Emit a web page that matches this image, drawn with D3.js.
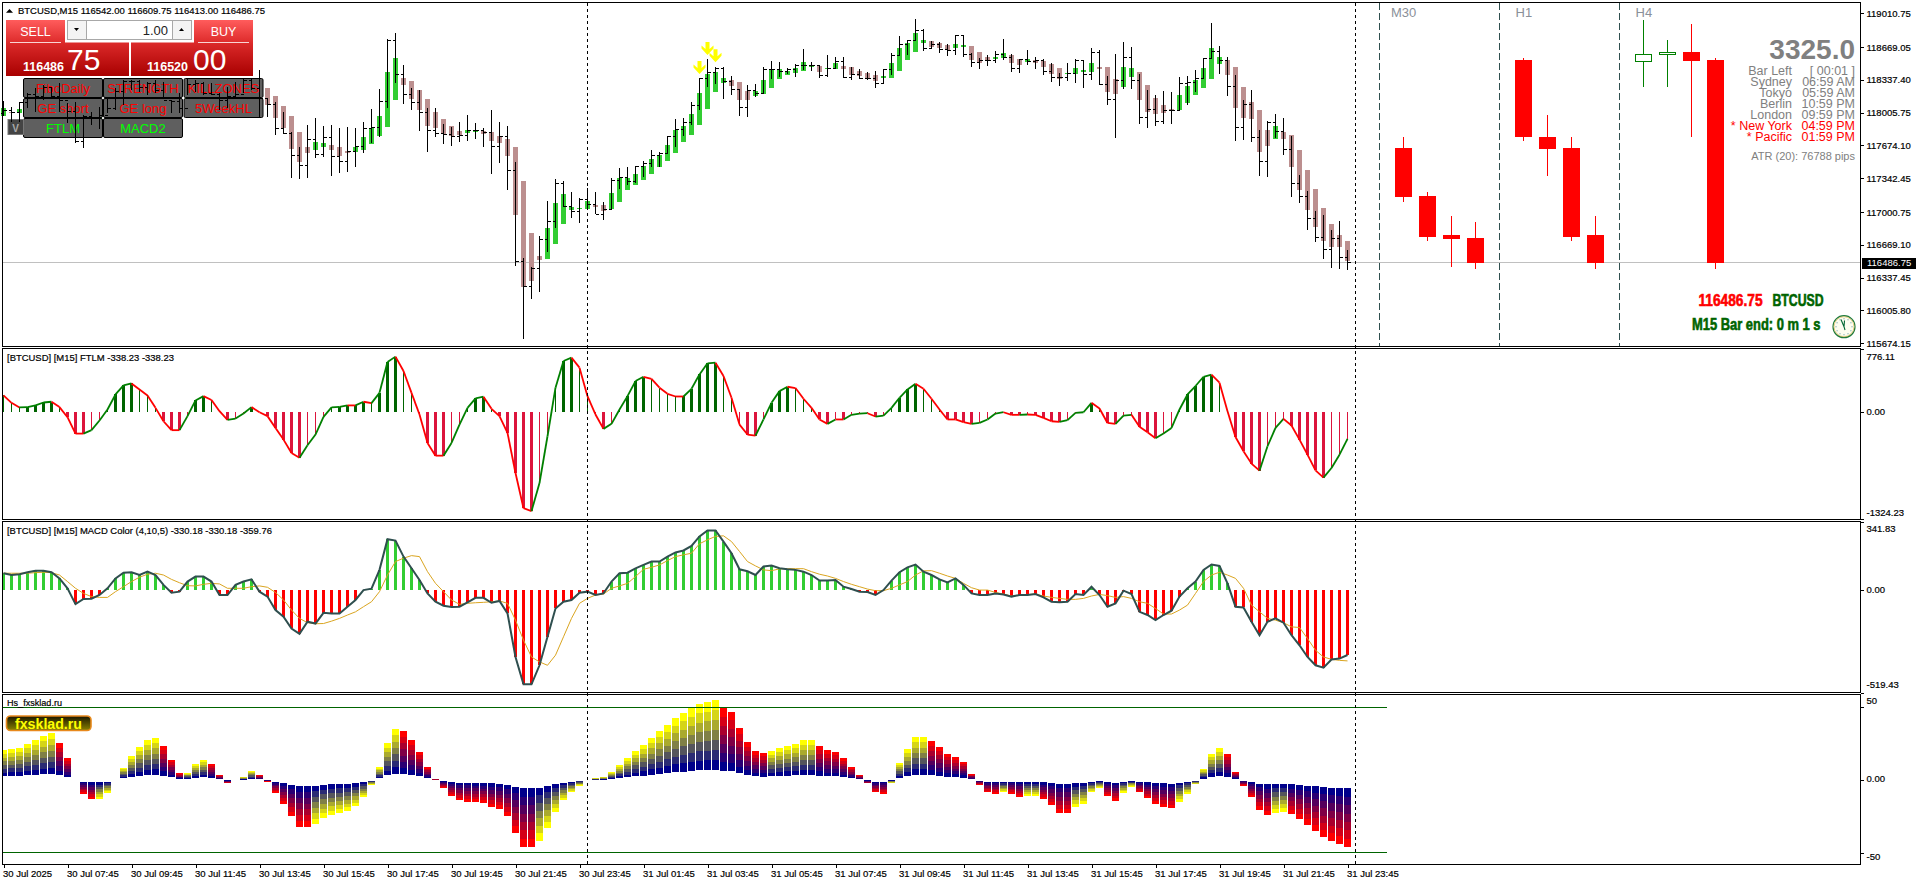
<!DOCTYPE html>
<html>
<head>
<meta charset="utf-8">
<title>BTCUSD,M15</title>
<script src="https://cdn.jsdelivr.net/npm/d3@7"></script>
<style>
  html, body { margin: 0; padding: 0; background: #fff; overflow: hidden; }
  text { font-family: "Liberation Sans", Arial, sans-serif; }
  .crisp { shape-rendering: crispEdges; }
</style>
</head>
<body>
<div id="vis"></div>
<script>
// M15 bars, one value per bar
const highs = [
  118124,118067,118114,118201,118252,118286,118269,118302,118100,118117,
  117982,118016,118060,118151,118252,118336,118336,118336,118319,118336,
  118319,118134,118201,118353,118336,118319,118302,118201,118269,118319,
  118353,118353,118437,118147,118117,118016,117814,117662,117881,117949,
  117875,117881,117847,117858,117847,117915,118043,118242,118747,118808,
  118488,118252,118235,118050,118050,117891,117864,117915,117982,117898,
  117854,118033,117912,117871,117504,116533,116442,116759,117113,117335,
  117315,117204,117140,117244,117204,117103,117345,117447,117457,117467,
  117517,117629,117608,117770,117942,117949,118114,118356,118548,118464,
  118471,118377,118242,118286,118292,118464,118525,118518,118454,118498,
  118646,118518,118478,118589,118569,118569,118468,118444,118420,118427,
  118444,118606,118781,118741,118953,118848,118730,118720,118700,118791,
  118791,118606,118555,118586,118633,118747,118596,118548,118640,118565,
  118545,118505,118404,118505,118545,118532,118660,118640,118377,118599,
  118720,118670,118397,118235,118185,118225,118215,118363,118377,118437,
  118555,118912,118680,118565,118387,118134,118235,117831,117918,117992,
  117952,117770,117376,117214,117012,116971,116820,116911,116618];
const lows = [
  117972,117908,117908,118050,118016,118134,118151,118016,117898,117696,
  117652,117881,117837,118000,118033,118084,118235,118218,118185,118201,
  118151,118000,118000,118185,118218,118185,118185,118033,118050,118151,
  118201,118235,117949,117966,117780,117790,117349,117335,117349,117544,
  117561,117369,117399,117409,117460,117602,117696,117763,118053,118309,
  118094,118033,117824,117612,117763,117689,117669,117706,117723,117740,
  117662,117386,117500,117224,116456,115721,116125,116193,116597,116840,
  117056,116941,116890,117032,116978,116921,117032,117234,117275,117292,
  117359,117460,117460,117595,117662,117770,117881,118033,118269,118296,
  118144,118188,117972,117966,118161,118201,118346,118370,118397,118370,
  118437,118431,118360,118370,118454,118360,118340,118346,118336,118255,
  118296,118387,118589,118589,118730,118633,118646,118606,118579,118589,
  118565,118471,118447,118481,118511,118538,118420,118410,118484,118447,
  118390,118316,118276,118329,118309,118255,118336,118289,118084,117750,
  118245,118245,117891,117854,117871,117888,117891,118026,118084,118212,
  118353,118545,118397,118174,117719,117730,117709,117366,117359,117750,
  117581,117153,117093,116820,116698,116527,116436,116426,116415];
const opens = [
  118000,118033,118009,118110,118185,118168,118262,118168,118134,118016,
  117713,117966,117959,117982,118050,118218,118319,118319,118262,118302,
  118235,118134,118117,118050,118286,118302,118201,118185,118134,118168,
  118185,118336,118252,118151,118084,117847,117797,117578,117470,117730,
  117588,117750,117561,117514,117612,117662,117847,117858,118124,118734,
  118387,118185,118110,118009,117824,117797,117790,117770,117780,117821,
  117824,117804,117659,117770,117426,116500,116247,116432,116719,116907,
  117285,117059,117002,117133,117079,116978,117022,117325,117352,117308,
  117460,117494,117575,117595,117770,117837,117905,118080,118353,118414,
  118457,118323,118242,118060,118235,118201,118447,118444,118427,118444,
  118481,118481,118478,118383,118454,118525,118363,118393,118356,118356,
  118302,118444,118589,118700,118734,118832,118653,118697,118646,118633,
  118788,118599,118515,118535,118535,118596,118565,118454,118545,118528,
  118538,118424,118360,118360,118407,118538,118397,118619,118292,118141,
  118336,118562,118333,117959,118040,117918,118033,118033,118296,118313,
  118353,118552,118626,118532,118272,117858,118090,117757,117514,117908,
  117817,117635,117291,117160,116938,116742,116618,116729,116543];
const closes = [
  118033,118009,118110,118185,118168,118262,118168,118134,118016,117713,
  117966,117959,117982,118050,118218,118319,118319,118262,118302,118235,
  118134,118117,118050,118286,118302,118201,118185,118134,118168,118185,
  118336,118252,118151,118084,117847,117797,117578,117470,117730,117588,
  117750,117561,117514,117612,117662,117847,117858,118124,118734,118387,
  118185,118110,118009,117824,117797,117790,117770,117780,117821,117824,
  117804,117659,117770,117426,116500,116247,116432,116719,116907,117285,
  117059,117002,117133,117079,116978,117022,117325,117352,117308,117460,
  117494,117575,117595,117770,117837,117905,118080,118353,118414,118457,
  118323,118242,118060,118235,118201,118447,118444,118427,118444,118481,
  118481,118478,118383,118454,118525,118363,118393,118356,118356,118302,
  118444,118589,118700,118734,118832,118653,118697,118646,118633,118788,
  118599,118515,118535,118535,118596,118565,118454,118545,118528,118538,
  118424,118360,118360,118407,118538,118397,118619,118292,118141,118336,
  118562,118333,117959,118040,117918,118033,118033,118296,118313,118353,
  118552,118626,118532,118272,117858,118090,117757,117514,117908,117817,
  117635,117291,117160,116938,116742,116618,116729,116543,116486.75];
// the coloured bodies do not sit on the black bars, they are a smoothed candle
const bodyOpens = [
  117976,118016,118003,118050,118067,118117,118235,118218,118134,118100,
  117864,117898,117915,118000,118050,118134,118201,118302,118286,118286,
  118252,118185,118151,118100,118201,118286,118252,118218,118100,118151,
  118185,118302,118269,118252,118174,118073,117972,117810,117659,117629,
  117659,117679,117659,117618,117608,117629,117689,117770,117861,118134,
  118356,118326,118235,118144,118013,117942,117871,117821,117800,117810,
  117821,117810,117770,117740,117659,117315,116789,116557,116527,116678,
  116880,117022,117032,117032,117072,117072,117032,117103,117224,117275,
  117325,117386,117457,117517,117598,117709,117780,117881,118043,118215,
  118306,118336,118316,118225,118174,118195,118255,118346,118387,118407,
  118427,118468,118478,118447,118447,118478,118468,118427,118407,118387,
  118356,118356,118427,118538,118619,118710,118730,118710,118690,118660,
  118670,118680,118619,118569,118548,118559,118589,118548,118518,118538,
  118528,118498,118457,118397,118397,118417,118417,118468,118468,118346,
  118265,118367,118417,118286,118154,118084,118043,118033,118104,118185,
  118255,118346,118498,118538,118468,118265,118114,118033,117831,117740,
  117810,117780,117629,117426,117234,117042,116880,116769,116708];
const bodyCloses = [
  118050,118000,118043,118134,118168,118218,118134,118100,118033,117932,
  118033,118000,118033,118084,118185,118269,118302,118235,118218,118218,
  118168,118100,118067,118235,118302,118201,118185,118134,118201,118235,
  118286,118218,118134,118084,117952,117851,117639,117507,117598,117709,
  117699,117629,117568,117598,117659,117760,117851,117972,118417,118559,
  118286,118144,118033,117871,117851,117790,117770,117780,117831,117831,
  117790,117719,117699,117568,116971,116243,116304,116516,116840,117093,
  117184,117052,117042,117113,117052,117012,117194,117345,117345,117386,
  117467,117537,117578,117679,117831,117871,117992,118205,118397,118417,
  118356,118276,118134,118134,118225,118336,118447,118447,118427,118457,
  118518,118488,118417,118457,118508,118447,118387,118377,118346,118326,
  118377,118508,118660,118710,118811,118741,118670,118660,118640,118700,
  118690,118538,118508,118538,118569,118609,118508,118488,118548,118505,
  118468,118397,118346,118407,118457,118437,118508,118447,118215,118195,
  118468,118457,118134,118013,117992,118003,118023,118185,118276,118336,
  118457,118660,118569,118387,118053,117952,117942,117608,117669,117871,
  117740,117457,117224,117022,116850,116708,116648,116648,116506];

const ftlm = [
  198,107,50,54,75,111,120,54,-70,-272,
  -272,-230,-111,25,210,321,346,272,198,45,
  -120,-230,-230,-57,136,189,141,4,-103,-87,
  -25,54,-9,-57,-202,-346,-511,-569,-416,-284,
  -66,50,57,75,75,120,103,230,610,676,
  499,230,-37,-387,-544,-544,-387,-161,45,161,
  182,33,-57,-264,-758,-1191,-1228,-881,-305,293,
  622,663,540,189,-37,-214,-152,25,189,375,
  428,403,293,218,185,185,280,457,594,601,
  437,169,-161,-284,-296,-98,107,251,305,289,
  157,45,-98,-152,-98,-98,-41,-25,-21,-62,
  -50,45,169,272,342,280,157,25,-98,-98,
  -132,-152,-141,-98,-25,-9,-41,-41,-37,-41,
  -78,-120,-128,-107,-16,-9,107,37,-141,-152,
  -50,-41,-189,-255,-330,-272,-202,25,210,314,
  428,453,355,4,-314,-490,-642,-729,-428,-202,
  -91,-173,-346,-532,-726,-815,-696,-532,-338.23];
const macd = [
  83,74,78,88,95,95,88,57,7,-73,
  -47,-46,-27,7,57,86,88,74,91,74,
  24,-15,-10,41,66,66,41,-27,-27,24,
  41,52,-10,-35,-103,-137,-196,-223,-162,-171,
  -117,-120,-120,-86,-52,-2,5,100,255,248,
  167,108,49,-19,-61,-81,-88,-86,-64,-41,
  -41,-66,-57,-120,-340,-478,-478,-382,-238,-95,
  -61,-52,-15,-10,-27,-19,41,83,86,108,
  125,142,142,167,188,198,221,269,299,299,
  243,184,103,93,74,117,122,108,103,100,
  91,74,46,46,49,15,3,-10,-12,-27,
  -2,46,88,113,127,91,74,52,37,57,
  24,-19,-27,-27,-19,-24,-35,-27,-27,-22,
  -39,-61,-64,-61,-22,-27,15,-27,-86,-69,
  -5,-22,-112,-128,-154,-128,-106,-35,7,41,
  100,127,120,32,-86,-90,-162,-230,-162,-145,
  -167,-230,-281,-340,-382,-394,-353,-348,-330.18];
const signal = [
  83,83,83,83,86,88,86,74,41,7,
  -19,-35,-39,-39,-10,15,41,63,78,83,
  74,52,35,20,19,27,32,29,7,7,
  7,15,19,12,-14,-52,-103,-145,-167,-172,
  -171,-159,-145,-128,-112,-86,-61,-10,74,142,
  159,172,167,91,32,-10,-52,-74,-69,-66,
  -64,-61,-57,-69,-154,-255,-340,-365,-382,-331,
  -238,-145,-69,-44,-27,-22,7,19,32,66,
  103,113,125,147,167,176,184,232,252,269,
  272,243,193,142,120,100,96,105,106,106,
  106,91,78,69,57,41,27,15,3,-5,
  -5,7,24,41,74,95,96,83,69,57,
  32,10,-2,-2,-14,-22,-32,-29,-25,-22,
  -32,-39,-44,-49,-49,-44,-32,-24,-30,-39,
  -35,-44,-61,-69,-95,-123,-123,-103,-78,-19,
  41,74,88,74,57,7,-78,-112,-145,-154,
  -167,-188,-191,-247,-306,-340,-352,-357,-359.76];
const hs = [
  20.6,21.3,22,24.8,27.5,30.3,32.3,25.5,15.1,0,
  -9.6,-13.1,-13,-8.9,0,8.3,16.5,22.7,27.5,28.9,
  23.4,13.8,4.8,5,11,13.8,11,3.4,-2.1,0,
  2.1,6.2,3.4,-1.1,-8.9,-16.5,-24.8,-32.3,-32.4,-30.3,
  -26.2,-24.3,-23,-21.6,-17.9,-11.7,-3.4,8.9,25.5,35.1,
  33.7,27.5,19.3,8.9,0.9,-5.5,-11,-13.8,-15.1,-15.2,
  -15.8,-18.6,-20,-24.8,-36.5,-46.1,-46.2,-42,-33,-22,
  -13.8,-8.3,-4.1,0,1.4,2.1,5.5,10.3,15.1,20,
  24.1,28.9,33.7,37.9,42.7,46.1,49.5,52.3,53.7,55.1,
  49.5,46.8,35.8,26.2,20,18.6,20,22,23.4,24.8,
  27.5,27.6,23.4,20.6,19.3,15.1,8.9,3.4,-2.3,-8.3,
  -9.6,-2,11.7,21.3,29.6,29.7,26.8,22.7,17.9,15.8,
  12.4,4.1,-3.4,-8.3,-9.6,-8.3,-9.6,-11.7,-11,-11,
  -13.1,-17.2,-22.7,-22.8,-18.6,-16.5,-8.3,-5.3,-11,-14.5,
  -8.9,-4.8,-8.3,-12.4,-16.5,-18.6,-19.3,-15.1,-9.6,-2.8,
  7.6,17.9,22,17.9,5.5,-4.1,-11.7,-20.6,-24.1,-22.7,
  -22,-23.4,-26.8,-31,-35.1,-39.2,-42,-44,-46.1];

// the three yellow arrows, bar number and price of the tip
const arrowBars = [87, 88, 89];
const arrowPrices = [118397, 118589, 118515];

// higher timeframe candles right of the last bar
const mtfSlots = [175, 178, 181, 184, 190, 193, 196, 199, 205, 208, 211, 214];
const mtfHighs = [117760, 117204, 116961, 116901, 118555, 117982, 117760, 116961, 118943, 118741, 118902, 118555];
const mtfLows = [117106, 116712, 116449, 116429, 117723, 117369, 116712, 116429, 118269, 118269, 117763, 116429];
const mtfOpens = [117639, 117163, 116769, 116729, 118538, 117760, 117639, 116769, 118522, 118596, 118619, 118538];
const mtfCloses = [117157, 116752, 116732, 116496, 117763, 117642, 116752, 116496, 118596, 118619, 118538, 116496];
const mtfSeparators = [172, 187, 202];
const mtfNames = ['M30', 'H1', 'H4'];

const priceTicks = [119010.75, 118669.05, 118337.40, 118005.75, 117674.10, 117342.45, 117000.75, 116669.10, 116337.45, 116005.80, 115674.15];
const timeBars = d3.range(0, 169, 8);
const timeLabels = ['30 Jul 2025', '30 Jul 07:45', '30 Jul 09:45', '30 Jul 11:45', '30 Jul 13:45', '30 Jul 15:45', '30 Jul 17:45',
  '30 Jul 19:45', '30 Jul 21:45', '30 Jul 23:45', '31 Jul 01:45', '31 Jul 03:45', '31 Jul 05:45', '31 Jul 07:45', '31 Jul 09:45',
  '31 Jul 11:45', '31 Jul 13:45', '31 Jul 15:45', '31 Jul 17:45', '31 Jul 19:45', '31 Jul 21:45', '31 Jul 23:45'];

const sessionNames = ['Bar Left', 'Sydney', 'Tokyo', 'Berlin', 'London', '* New York', '* Pacific'];
const sessionTimes = ['[ 00:01 ]', '06:59 AM', '05:59 AM', '10:59 PM', '09:59 PM', '04:59 PM', '01:59 PM'];

const gridLabels = ['FiboDaily', 'STRENGTH', 'KILLZONES', 'GE short', 'GE long', '5WeekHL', 'FTLM', 'MACD2'];

const lastPrice = 116486.75;

const width = 1916;
const height = 885;
const axisX = 1860.5;

const x = d3.scaleLinear().domain([0, 168]).range([3.5, 1347.5]);
const yMain = d3.scaleLinear().domain([115674.15, 119010.75]).range([343.3, 13.3]);
const yFtlm = d3.scaleLinear().domain([-1324.23, 776.11]).range([519, 348.5]);
const yMacd = d3.scaleLinear().domain([-519.43, 341.83]).range([692.5, 522]);
const yHs = d3.scaleLinear().domain([-50, 50]).range([852.7, 707.3]);

const svg = d3.select('#vis')
  .append('svg')
  .attr('width', width)
  .attr('height', height)
  .style('display', 'block');

const defs = svg.append('defs');
function vGradient(id, top, bottom) {
  const g = defs.append('linearGradient').attr('id', id).attr('x1', 0).attr('x2', 0).attr('y1', 0).attr('y2', 1);
  g.append('stop').attr('offset', '0%').attr('stop-color', top);
  g.append('stop').attr('offset', '100%').attr('stop-color', bottom);
}
vGradient('headRed', '#ff5c5c', '#dd2a2a');
vGradient('priceRed', '#dc2a2a', '#a80000');
vGradient('logoFill', '#1c1600', '#8a8200');
defs.append('clipPath').attr('id', 'plotClip')
  .append('rect').attr('x', 3).attr('y', 0).attr('width', axisX - 3).attr('height', height);
defs.append('filter').attr('id', 'logoGlow').attr('x', '-10%').attr('y', '-30%').attr('width', '120%').attr('height', '160%')
  .append('feGaussianBlur').attr('stdDeviation', 0.6);

const idx = d3.range(closes.length);

// ---- main window: price line and bodies go under the button grid, the black bars over it
svg.append('line').attr('class', 'crisp')
  .attr('x1', 3).attr('x2', axisX)
  .attr('y1', yMain(lastPrice)).attr('y2', yMain(lastPrice))
  .attr('stroke', '#c0c0c0');

svg.append('g').attr('class', 'crisp')
  .selectAll('rect')
  .data(idx)
  .enter()
  .append('rect')
  .attr('x', (i) => x(i) - 2.5)
  .attr('width', 5)
  .attr('y', (i) => yMain(Math.max(bodyOpens[i], bodyCloses[i])))
  .attr('height', (i) => Math.max(1, Math.abs(yMain(bodyOpens[i]) - yMain(bodyCloses[i]))))
  .attr('fill', (i) => bodyCloses[i] >= bodyOpens[i] ? '#32cd32' : '#bc8f8f');

drawTradePanel();
drawButtonGrid();

const bars = svg.append('g').attr('class', 'crisp').attr('stroke', '#000').attr('fill', 'none');
bars.selectAll('.wick').data(idx).enter().append('line')
  .attr('class', 'wick')
  .attr('x1', (i) => x(i)).attr('x2', (i) => x(i))
  .attr('y1', (i) => yMain(highs[i])).attr('y2', (i) => yMain(lows[i]));
bars.selectAll('.open').data(idx).enter().append('line')
  .attr('class', 'open')
  .attr('x1', (i) => x(i) - 3).attr('x2', (i) => x(i))
  .attr('y1', (i) => yMain(opens[i])).attr('y2', (i) => yMain(opens[i]));
bars.selectAll('.close').data(idx).enter().append('line')
  .attr('class', 'close')
  .attr('x1', (i) => x(i)).attr('x2', (i) => x(i) + 3)
  .attr('y1', (i) => yMain(closes[i])).attr('y2', (i) => yMain(closes[i]));

// yellow arrows
svg.append('g').selectAll('path')
  .data(arrowBars)
  .enter()
  .append('path')
  .attr('transform', (d, i) => 'translate(' + x(d) + ',' + yMain(arrowPrices[i]) + ')')
  .attr('d', 'M0,0 L-6,-6.5 L-6,-9.5 L-2,-6 L-2,-13 L2,-13 L2,-6 L6,-9.5 L6,-6.5 Z')
  .attr('fill', '#ffff00');

// higher timeframes
const mtfIdx = d3.range(mtfSlots.length);
const mtf = svg.append('g').attr('class', 'crisp');
const mtfColor = (i) => mtfCloses[i] >= mtfOpens[i] ? '#008000' : '#ff0000';
mtf.selectAll('.sep').data(mtfSeparators).enter().append('line')
  .attr('class', 'sep')
  .attr('x1', (d) => x(d)).attr('x2', (d) => x(d))
  .attr('y1', 3).attr('y2', 346)
  .attr('stroke', '#2f4f4f')
  .attr('stroke-dasharray', '7,3');
mtf.selectAll('.mwick').data(mtfIdx).enter().append('line')
  .attr('class', 'mwick')
  .attr('x1', (i) => x(mtfSlots[i])).attr('x2', (i) => x(mtfSlots[i]))
  .attr('y1', (i) => yMain(mtfHighs[i])).attr('y2', (i) => yMain(mtfLows[i]))
  .attr('stroke', mtfColor);
mtf.selectAll('.mbody').data(mtfIdx).enter().append('rect')
  .attr('class', 'mbody')
  .attr('x', (i) => x(mtfSlots[i]) - 8)
  .attr('width', 16)
  .attr('y', (i) => yMain(Math.max(mtfOpens[i], mtfCloses[i])))
  .attr('height', (i) => Math.abs(yMain(mtfOpens[i]) - yMain(mtfCloses[i])))
  .attr('fill', (i) => mtfCloses[i] >= mtfOpens[i] ? '#fff' : '#ff0000')
  .attr('stroke', mtfColor);
svg.append('g').selectAll('text')
  .data(mtfNames)
  .enter()
  .append('text')
  .attr('x', (d, i) => x(mtfSeparators[i]) + (i ? 16 : 11.5))
  .attr('y', 17)
  .attr('font-size', 13)
  .attr('fill', '#8a9099')
  .text((d) => d);

drawSessionInfo();

// ---- FTLM
const ftlmThick = (i) => i > 0 && Math.abs(ftlm[i]) >= Math.abs(ftlm[i - 1]);
svg.append('g').attr('class', 'crisp')
  .selectAll('rect')
  .data(idx)
  .enter()
  .append('rect')
  .attr('x', (i) => x(i) - (ftlmThick(i) ? 1.5 : 0.5))
  .attr('width', (i) => ftlmThick(i) ? 3 : 1)
  .attr('y', (i) => Math.min(yFtlm(0), yFtlm(ftlm[i])))
  .attr('height', (i) => Math.abs(yFtlm(0) - yFtlm(ftlm[i])))
  .attr('fill', (i) => ftlm[i] >= 0 ? '#006400' : '#dc143c');

const ftlmLine = d3.line().x((i) => x(i)).y((i) => yFtlm(ftlm[i]));
svg.append('g').attr('fill', 'none').attr('stroke-width', 1.8)
  .selectAll('path')
  .data(d3.pairs(idx))
  .enter()
  .append('path')
  .attr('d', (d) => ftlmLine(d))
  .attr('stroke', (d) => ftlm[d[1]] > ftlm[d[0]] ? '#008000' : '#ff0000');

// ---- MACD
svg.append('g').attr('class', 'crisp')
  .selectAll('rect')
  .data(idx)
  .enter()
  .append('rect')
  .attr('x', (i) => x(i) - 1.5)
  .attr('width', 3)
  .attr('y', (i) => Math.min(yMacd(0), yMacd(macd[i])))
  .attr('height', (i) => Math.abs(yMacd(0) - yMacd(macd[i])))
  .attr('fill', (i) => macd[i] >= 0 ? '#32cd32' : '#ff0000');

svg.append('path')
  .datum(idx)
  .attr('fill', 'none')
  .attr('stroke', '#daa520')
  .attr('stroke-width', 1)
  .attr('d', d3.line().x((i) => x(i)).y((i) => yMacd(signal[i])));
svg.append('path')
  .datum(idx)
  .attr('fill', 'none')
  .attr('stroke', '#2f4f4f')
  .attr('stroke-width', 2)
  .attr('d', d3.line().x((i) => x(i)).y((i) => yMacd(macd[i])));

// ---- Hs_fxsklad: every bar is a stack of eight equal steps, the first one stays empty
const hsLevels = 8;
const hsCells = [];
idx.forEach((i) => {
  if (hs[i] === 0) return;
  const rising = i === 0 || hs[i] >= hs[i - 1];
  const ramp = d3.interpolateRgb('#00008b', rising ? '#ffff00' : '#ff0000');
  d3.range(1, hsLevels).forEach((k) => {
    hsCells.push({i: i, from: hs[i] * k / hsLevels, to: hs[i] * (k + 1) / hsLevels, color: ramp((k - 1) / (hsLevels - 2))});
  });
});
svg.append('g').attr('class', 'crisp').attr('clip-path', 'url(#plotClip)')
  .selectAll('rect')
  .data(hsCells)
  .enter()
  .append('rect')
  .attr('x', (d) => x(d.i) - 3.5)
  .attr('width', 7)
  .attr('y', (d) => Math.min(yHs(d.from), yHs(d.to)))
  .attr('height', (d) => Math.max(0.5, Math.abs(yHs(d.from) - yHs(d.to))))
  .attr('fill', (d) => d.color);

svg.append('g').attr('class', 'crisp')
  .selectAll('line')
  .data([50, -50])
  .enter()
  .append('line')
  .attr('x1', 3).attr('x2', 1387)
  .attr('y1', (d) => yHs(d)).attr('y2', (d) => yHs(d))
  .attr('stroke', '#006400');

// logo
svg.append('rect')
  .attr('x', 6.5).attr('y', 716).attr('width', 84.5).attr('height', 14.5).attr('rx', 4)
  .attr('fill', 'url(#logoFill)').attr('stroke', '#e8891c').attr('stroke-width', 1.6)
  .attr('filter', 'url(#logoGlow)');
svg.append('text')
  .attr('x', 15).attr('y', 728.5)
  .attr('font-size', 14).attr('font-weight', 'bold')
  .attr('textLength', 67).attr('lengthAdjust', 'spacingAndGlyphs')
  .attr('fill', '#ffff00')
  .text('fxsklad.ru');

// ---- dashed time lines through all the windows
svg.append('g').attr('class', 'crisp')
  .selectAll('line')
  .data([73, 169])
  .enter()
  .append('line')
  .attr('x1', (d) => x(d)).attr('x2', (d) => x(d))
  .attr('y1', 3).attr('y2', 864)
  .attr('stroke', '#000')
  .attr('stroke-dasharray', '3,3');

// ---- frames
const frames = [[2.5, 346.5], [348.5, 519.5], [521.5, 692.5], [694.5, 864.5]];
svg.append('g').attr('class', 'crisp')
  .selectAll('rect')
  .data(frames)
  .enter()
  .append('rect')
  .attr('x', 2.5)
  .attr('y', (d) => d[0])
  .attr('width', axisX - 2.5)
  .attr('height', (d) => d[1] - d[0])
  .attr('fill', 'none')
  .attr('stroke', '#000');

// ---- axes
const fixed2 = (d) => d.toFixed(2);

function styleAxis(g) {
  g.select('.domain').remove();
  g.selectAll('line').attr('stroke', '#000').attr('class', 'crisp');
  g.selectAll('text')
    .attr('font-size', 9.5)
    .attr('fill', '#000')
    .attr('stroke', '#000')
    .attr('stroke-width', 0.2)
    .style('font-family', '"Liberation Sans", Arial, sans-serif');
}

svg.append('g')
  .attr('transform', 'translate(' + axisX + ',0)')
  .call(d3.axisRight(yMain).tickValues(priceTicks).tickSize(3).tickPadding(3).tickFormat(fixed2))
  .call(styleAxis);

// the top and bottom labels of a sub window sit inside its frame
function subAxis(scale, values, shifts, format) {
  svg.append('g')
    .attr('transform', 'translate(' + axisX + ',0)')
    .call(d3.axisRight(scale).tickValues(values).tickSize(3).tickPadding(3).tickFormat(format))
    .call(styleAxis)
    .selectAll('text')
    .attr('dy', (d, i) => shifts[i]);
}
subAxis(yFtlm, [776.11, 0, -1324.23], [10.5, 3, -4], fixed2);
subAxis(yMacd, [341.83, 0, -519.43], [9, 3, -5], fixed2);
subAxis(yHs, [50, 0, -50], [-3.8, 1.5, 6.4], (d) => d === 0 ? '0.00' : String(d));

svg.append('g')
  .attr('transform', 'translate(0,864.5)')
  .call(d3.axisBottom(x).tickValues(timeBars).tickSize(3).tickPadding(2.5).tickFormat((d, i) => timeLabels[i]))
  .call(styleAxis)
  .selectAll('text')
  .attr('text-anchor', 'start')
  .attr('x', -1);

// last price tag
svg.append('rect').attr('class', 'crisp')
  .attr('x', axisX + 1).attr('y', yMain(lastPrice) - 5).attr('width', width - axisX).attr('height', 11)
  .attr('fill', '#000');
svg.append('text')
  .attr('x', axisX + 6.5).attr('y', yMain(lastPrice) + 3.5)
  .attr('font-size', 9.5)
  .attr('fill', '#fff')
  .text(lastPrice.toFixed(2));

// ---- window titles
svg.append('path').attr('d', 'M6,12.7 L13,12.7 L9.5,9 Z').attr('fill', '#000');
const titles = [
  {t: 'BTCUSD,M15  116542.00 116609.75 116413.00 116486.75', x: 18, y: 14, w: 247},
  {t: '[BTCUSD] [M15] FTLM -338.23 -338.23', x: 7, y: 360.5, w: 167},
  {t: '[BTCUSD] [M15] MACD Color (4,10,5) -330.18 -330.18 -359.76', x: 7, y: 533.5, w: 265},
  {t: 'Hs_fxsklad.ru', x: 7, y: 705.5, w: 55},
];
svg.append('g').selectAll('text')
  .data(titles)
  .enter()
  .append('text')
  .attr('x', (d) => d.x)
  .attr('y', (d) => d.y)
  .attr('font-size', 9.5)
  .attr('textLength', (d) => d.w)
  .attr('lengthAdjust', 'spacingAndGlyphs')
  .attr('fill', '#000')
  .attr('stroke', '#000')
  .attr('stroke-width', 0.2)
  .text((d) => d.t);

/**
 * one click trading box at the top left
 */
function drawTradePanel() {
  const g = svg.append('g');
  const head = (hx, label) => {
    g.append('rect').attr('x', hx).attr('y', 20).attr('width', 59).attr('height', 23).attr('fill', 'url(#headRed)');
    g.append('text').attr('x', hx + 29.5).attr('y', 35.5).attr('text-anchor', 'middle')
      .attr('font-size', 12.5).attr('fill', '#fff').text(label);
    g.append('line').attr('class', 'crisp').attr('x1', hx + 4).attr('x2', hx + 55).attr('y1', 42.5).attr('y2', 42.5)
      .attr('stroke', '#fff').attr('stroke-opacity', 0.8);
  };
  const price = (px, pw, smallX, bigX, big, small) => {
    g.append('rect').attr('x', px).attr('y', 42.5).attr('width', pw).attr('height', 33.5).attr('fill', 'url(#priceRed)');
    g.append('text').attr('x', smallX).attr('y', 70.5).attr('font-size', 12.5).attr('font-weight', 'bold')
      .attr('fill', '#fff').text(small);
    g.append('text').attr('x', bigX).attr('y', 69.5).attr('font-size', 30)
      .attr('fill', '#fff').text(big);
  };
  price(6, 123, 23, 67, '75', '116486');
  price(131, 122, 147, 193, '00', '116520');
  head(6, 'SELL');
  head(194, 'BUY');

  g.append('rect').attr('class', 'crisp').attr('x', 65).attr('y', 20).attr('width', 129).attr('height', 22).attr('fill', '#fff');
  g.append('rect').attr('class', 'crisp').attr('x', 67.5).attr('y', 20.5).attr('width', 124).attr('height', 19)
    .attr('fill', '#fff').attr('stroke', '#a8a8a8');
  g.append('rect').attr('class', 'crisp').attr('x', 67.5).attr('y', 20.5).attr('width', 19).attr('height', 19)
    .attr('fill', '#f4f4f4').attr('stroke', '#a8a8a8');
  g.append('rect').attr('class', 'crisp').attr('x', 172.5).attr('y', 20.5).attr('width', 19).attr('height', 19)
    .attr('fill', '#f4f4f4').attr('stroke', '#a8a8a8');
  g.append('path').attr('d', 'M74,28 L79,28 L76.5,31 Z').attr('fill', '#000');
  g.append('path').attr('d', 'M179,31 L184,31 L181.5,28 Z').attr('fill', '#000');
  g.append('text').attr('x', 168).attr('y', 34.5).attr('text-anchor', 'end').attr('font-size', 13)
    .attr('fill', '#222').text('1.00');
}

/**
 * the grey indicator switches, wicks of the chart run over them
 */
function drawButtonGrid() {
  const g = svg.append('g');
  const cols = [23.5, 103.5, 184];
  const rows = [78.5, 98.5, 118.5];
  g.selectAll('rect')
    .data(gridLabels)
    .enter()
    .append('rect')
    .attr('x', (d, i) => cols[i % 3])
    .attr('y', (d, i) => rows[Math.floor(i / 3)])
    .attr('width', 79)
    .attr('height', 19)
    .attr('rx', 1.5)
    .attr('fill', '#5f5f5f')
    .attr('stroke', '#000');
  g.selectAll('text')
    .data(gridLabels)
    .enter()
    .append('text')
    .attr('x', (d, i) => cols[i % 3] + 39.5)
    .attr('y', (d, i) => rows[Math.floor(i / 3)] + 14.5)
    .attr('text-anchor', 'middle')
    .attr('font-size', 13)
    .attr('fill', (d, i) => i > 5 ? '#00ff00' : '#ff0000')
    .text((d) => d);
  g.append('rect').attr('x', 8).attr('y', 119.5).attr('width', 15.5).attr('height', 15).attr('fill', '#444')
    .attr('stroke', '#777');
  g.append('text').attr('x', 15.5).attr('y', 132).attr('text-anchor', 'middle').attr('font-size', 10)
    .attr('font-weight', 'bold').attr('fill', '#aaa').text('V');
}

/**
 * spread, session clock and bar timer on the right of the main window
 */
function drawSessionInfo() {
  const g = svg.append('g');
  g.append('text').attr('x', 1855).attr('y', 59).attr('text-anchor', 'end')
    .attr('font-size', 28).attr('font-weight', 'bold').attr('fill', '#808080').text('3325.0');
  const isRed = (i) => i > 4;
  g.selectAll('.name').data(sessionNames).enter().append('text')
    .attr('class', 'name')
    .attr('x', 1792).attr('y', (d, i) => 75 + i * 11)
    .attr('text-anchor', 'end').attr('font-size', 12.5)
    .attr('fill', (d, i) => isRed(i) ? '#ff0000' : '#808080')
    .text((d) => d);
  g.selectAll('.time').data(sessionTimes).enter().append('text')
    .attr('class', 'time')
    .attr('x', 1855).attr('y', (d, i) => 75 + i * 11)
    .attr('text-anchor', 'end').attr('font-size', 12.5)
    .attr('fill', (d, i) => isRed(i) ? '#ff0000' : '#808080')
    .text((d) => d);
  g.append('text').attr('x', 1855).attr('y', 160).attr('text-anchor', 'end')
    .attr('font-size', 11).attr('fill', '#808080').text('ATR (20): 76788 pips');

  const heavy = (t, tx, ty, w, color) => g.append('text')
    .attr('x', tx).attr('y', ty)
    .attr('font-size', 16).attr('font-weight', 'bold')
    .attr('textLength', w).attr('lengthAdjust', 'spacingAndGlyphs')
    .attr('fill', color)
    .attr('stroke', color).attr('stroke-width', 0.6)
    .text(t);
  heavy('116486.75', 1698.5, 305.5, 64, '#ff0000');
  heavy('BTCUSD', 1772.5, 305.5, 51, '#006400');
  heavy('M15 Bar end: 0 m 1 s', 1692, 329.5, 128.5, '#006400');

  // clock face
  const cx = 1844;
  const cy = 326.7;
  g.append('circle').attr('cx', cx).attr('cy', cy).attr('r', 11)
    .attr('fill', '#fdfdf0').attr('stroke', '#1e7a3c').attr('stroke-width', 1.2);
  g.append('circle').attr('cx', cx).attr('cy', cy).attr('r', 10)
    .attr('fill', 'none').attr('stroke', '#d8b040').attr('stroke-width', 0.6);
  g.selectAll('.hour').data(d3.range(12)).enter().append('circle')
    .attr('class', 'hour')
    .attr('cx', (d) => cx + 8 * Math.cos(d * Math.PI / 6))
    .attr('cy', (d) => cy + 8 * Math.sin(d * Math.PI / 6))
    .attr('r', 0.5)
    .attr('fill', '#2a7a8a');
  g.append('path').attr('d', 'M1844,326.7 L1841,319.5 M1844,326.7 L1844.5,320.5 M1844,326.7 L1845,330')
    .attr('stroke', '#063').attr('stroke-width', 1.1).attr('fill', 'none');
}
</script>
</body>
</html>
